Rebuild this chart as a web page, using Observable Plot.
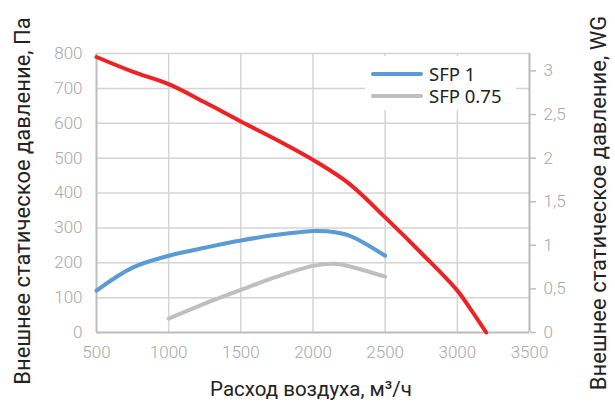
<!DOCTYPE html>
<html>
<head>
<meta charset="utf-8">
<script src="https://cdn.jsdelivr.net/npm/d3@7"></script>
<script src="https://cdn.jsdelivr.net/npm/@observablehq/plot@0.6"></script>
<style>
  html, body { margin: 0; padding: 0; background: #fff; }
  #wrap { position: relative; width: 615px; height: 412px; overflow: hidden; }
  #legend { position: absolute; left: 365px; top: 56px; width: 151px; height: 54px; background: #fff;
            font-family: "Noto Sans", "Open Sans", sans-serif; font-size: 18.5px; color: #222; }
  .item { position: absolute; left: 6px; height: 22px; display: flex; align-items: center; }
  .sw { width: 52px; height: 4px; border-radius: 2px; margin-right: 6px; }
  .lt { display: inline-block; height: 22px; line-height: 22px; overflow: visible; }
</style>
</head>
<body>
<div id="wrap"></div>
<script>
// ---- data ----
const airflowTicks = [500, 1000, 1500, 2000, 2500, 3000, 3500];
const paTicks = [0, 100, 200, 300, 400, 500, 600, 700, 800];
const wgTicks = [0, 0.5, 1, 1.5, 2, 2.5, 3];
const PA_PER_WG = 250;

// fan curve (red)
const fanFlow = [500, 750, 1000, 1250, 1500, 1750, 2000, 2250, 2500, 2750, 3000, 3100, 3200];
const fanPa   = [790, 748, 712, 660, 605, 552, 495, 427, 330, 228, 120, 62, 0];

// SFP 1 (blue)
const sfp1Flow = [500, 750, 1000, 1250, 1500, 1750, 2000, 2100, 2250, 2500];
const sfp1Pa   = [120, 186, 220, 243, 264, 280, 291, 290, 278, 220];

// SFP 0.75 (gray)
const sfp075Flow = [1000, 1250, 1500, 1750, 2000, 2150, 2250, 2500];
const sfp075Pa   = [40, 83, 122, 160, 191, 197, 190, 160];

const seriesNames = ["SFP 1", "SFP 0.75"];
const seriesColors = ["#5b9bd5", "#bfbfbf"];
const fanColor = "#ee2222";

const xTitle = "Расход воздуха, м³/ч";
const yTitle = "Внешнее статическое давление, Па";
const y2Title = "Внешнее статическое давление, WG";

const toRows = (xs, ys) => xs.map((x, i) => ({x, y: ys[i]}));

const tickFont = 'Roboto, sans-serif';
const titleFont = 'Roboto, "Noto Sans", sans-serif';
const gridColor = "#d4d4d4";
const axisColor = "#bdbdbd";
const labelColor = "#a8a8a8";

const chart = Plot.plot({
  width: 615,
  height: 412,
  marginLeft: 96,
  marginRight: 86,
  marginTop: 53,
  marginBottom: 80,
  style: { background: "#fff", fontFamily: tickFont, fontSize: "17px", fontWeight: 300, overflow: "visible" },
  x: { domain: [500, 3500] },
  y: { domain: [0, 800] },
  marks: [
    Plot.gridX(airflowTicks.slice(1), { stroke: gridColor, strokeOpacity: 1, strokeWidth: 1.5 }),
    Plot.gridY(paTicks.slice(1), { stroke: gridColor, strokeOpacity: 1, strokeWidth: 1.5 }),
    Plot.ruleX([airflowTicks[0], airflowTicks[airflowTicks.length - 1]], { stroke: axisColor, strokeWidth: 2 }),
    Plot.ruleY([0], { stroke: axisColor, strokeWidth: 2 }),
    Plot.axisX({ ticks: airflowTicks, tickSize: 0, tickPadding: 13, fill: labelColor, label: null, fontSize: 17,
      tickFormat: d => String(d) }),
    Plot.axisY({ ticks: paTicks, tickSize: 0, tickPadding: 14, fill: labelColor, label: null, fontSize: 17,
      tickFormat: d => String(d) }),
    Plot.axisY({ anchor: "right", ticks: wgTicks.map(v => v * PA_PER_WG), tickSize: 6, tickPadding: 8,
      stroke: axisColor, strokeWidth: 1.5, fill: labelColor, label: null, fontSize: 17,
      tickFormat: d => String(d / PA_PER_WG).replace(".", ",") }),
    Plot.line(toRows(sfp075Flow, sfp075Pa), { x: "x", y: "y", stroke: seriesColors[1], strokeWidth: 4, curve: "catmull-rom" }),
    Plot.line(toRows(sfp1Flow, sfp1Pa), { x: "x", y: "y", stroke: seriesColors[0], strokeWidth: 4, curve: "catmull-rom" }),
    Plot.line(toRows(fanFlow, fanPa), { x: "x", y: "y", stroke: fanColor, strokeWidth: 4, curve: "catmull-rom" }),
    Plot.text([xTitle], { frameAnchor: "bottom", dy: 63, dx: -2, text: d => d, fontFamily: titleFont, fontSize: 20.5,
      fontWeight: 400, fill: "#222", textAnchor: "middle" }),
    Plot.text([yTitle], { frameAnchor: "left", rotate: -90, dx: -74, dy: 8, text: d => d, fontFamily: titleFont,
      fontSize: 22, fontWeight: 400, fill: "#222", textAnchor: "middle", lineAnchor: "middle" }),
    Plot.text([y2Title], { frameAnchor: "right", rotate: -90, dx: 69, dy: 10, text: d => d, fontFamily: titleFont,
      fontSize: 22, fontWeight: 400, fill: "#222", textAnchor: "middle", lineAnchor: "middle" })
  ]
});

const wrap = document.getElementById("wrap");
wrap.appendChild(chart);

const legend = document.createElement("div");
legend.id = "legend";
seriesNames.forEach((name, i) => {
  const item = document.createElement("div");
  item.className = "item";
  item.style.top = (7 + i * 22) + "px";
  const sw = document.createElement("span");
  sw.className = "sw";
  sw.style.background = seriesColors[i];
  const t = document.createElement("span");
  t.className = "lt";
  t.textContent = name;
  item.appendChild(sw);
  item.appendChild(t);
  legend.appendChild(item);
});
wrap.appendChild(legend);
</script>
</body>
</html>
